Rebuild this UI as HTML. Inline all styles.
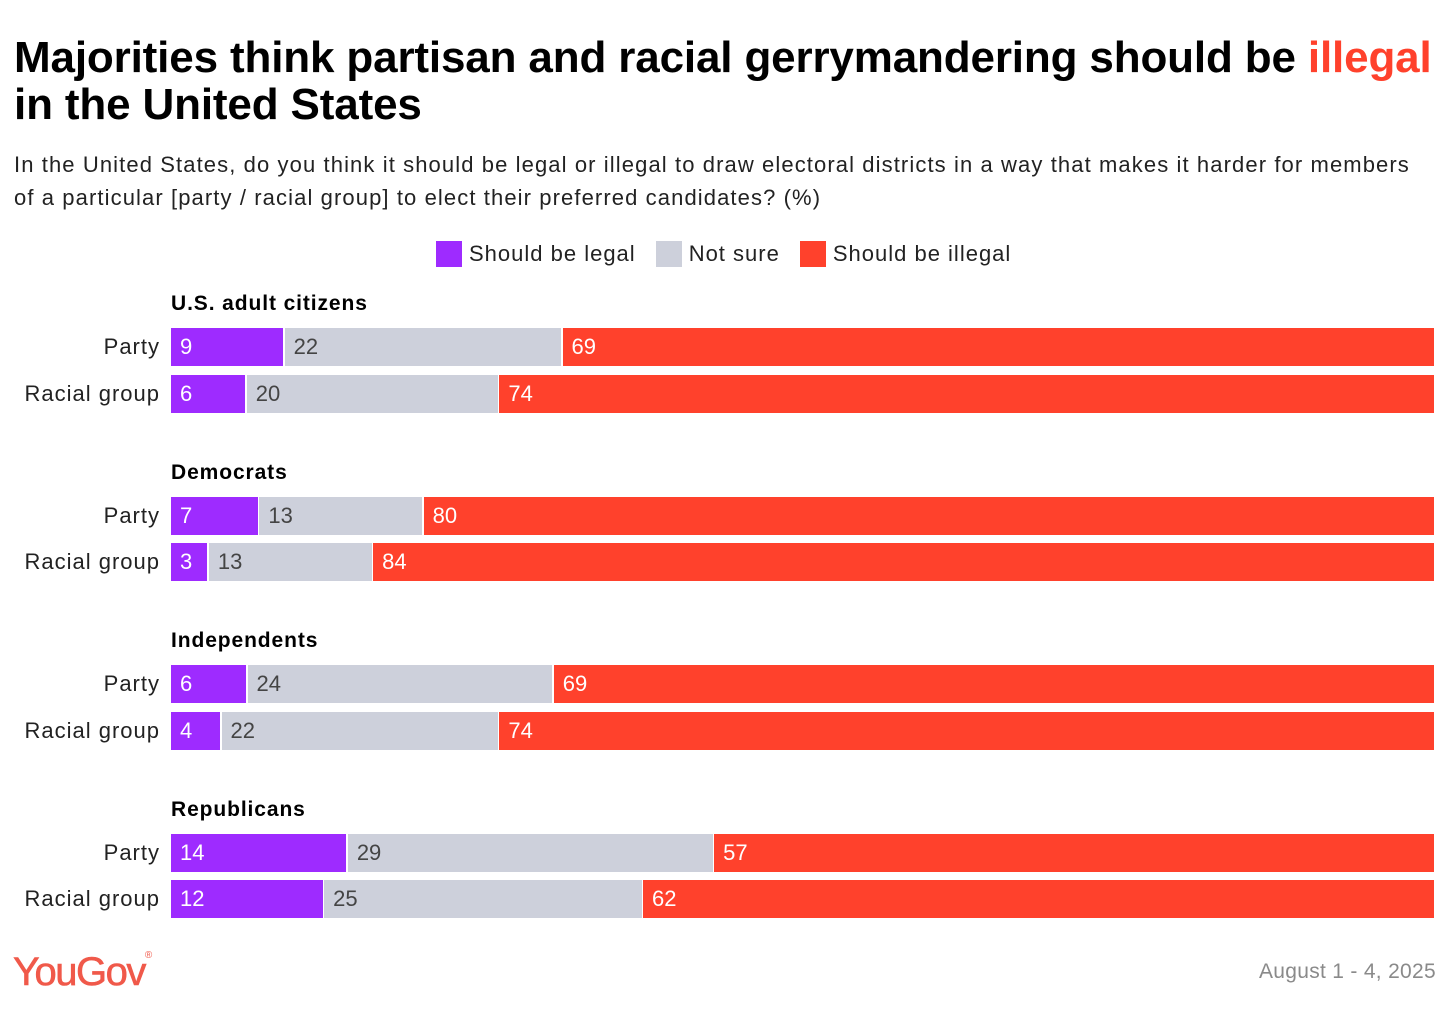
<!DOCTYPE html>
<html><head><meta charset="utf-8">
<style>
body{margin:0;width:1456px;height:1034px;background:#fff;font-family:"Liberation Sans",sans-serif;overflow:hidden;position:relative}
.t{position:absolute;white-space:nowrap}
</style></head><body>
<div class="t" style="left:14px;top:34px;font-size:44px;font-weight:bold;line-height:47px;letter-spacing:-0.15px;color:#000">Majorities think partisan and racial gerrymandering should be <span style="color:#ff412c">illegal</span><br>in the United States</div>
<div class="t" style="left:14px;top:148px;font-size:22px;line-height:33px;letter-spacing:1.1px;color:#222">In the United States, do you think it should be legal or illegal to draw electoral districts in a way that makes it harder for members<br>of a particular [party / racial group] to elect their preferred candidates? (%)</div>
<div style="position:absolute;top:241px;left:436px;font-size:22px;display:flex;align-items:center;color:#222;letter-spacing:1px">
<span style="width:26px;height:26px;background:#9e2bff;margin-right:7px"></span><span style="margin-right:20px">Should be legal</span>
<span style="width:26px;height:26px;background:#cdd0db;margin-right:7px"></span><span style="margin-right:20px">Not sure</span>
<span style="width:26px;height:26px;background:#ff412c;margin-right:7px"></span><span>Should be illegal</span>
</div>
<div id="chart"></div>
<div class="t" style="left:13px;top:950px;font-size:40px;color:#f0594a;letter-spacing:-1.5px;-webkit-text-stroke:0.6px #f0594a">YouGov<span style="font-size:10px;vertical-align:top;-webkit-text-stroke:0">®</span></div>
<div class="t" style="right:20px;top:960px;font-size:21px;color:#8a8a8a;letter-spacing:0.3px">August 1 - 4, 2025</div>
<script>
const groups=["U.S. adult citizens","Democrats","Independents","Republicans"];
const rowLabels=["Party","Racial group"];
const legal=[9,6,7,3,6,4,14,12];
const notSure=[22,20,13,13,24,22,29,25];
const illegal=[69,74,80,84,69,74,57,62];
const colors=["#9e2bff","#cdd0db","#ff412c"];
const textColors=["#fff","#444","#fff"];
const x0=171,x1=1434,barH=38;
const chart=document.getElementById('chart');
function mk(tag,css){const e=document.createElement(tag);e.style.cssText="position:absolute;"+css;chart.appendChild(e);return e;}
groups.forEach((g,gi)=>{
  const gy=292+gi*168.5;
  const gl=mk('div',`left:171px;top:${gy}px;font-size:21px;font-weight:bold;white-space:nowrap;letter-spacing:0.9px`);
  gl.textContent=g;
  
  
  rowLabels.forEach((rl,ri)=>{
    const i=gi*2+ri;
    const y=gy+36+ri*46.5;
    const lab=mk('div',`right:${1456-160}px;top:${y}px;height:${barH}px;line-height:${barH}px;font-size:22px;color:#222;white-space:nowrap;letter-spacing:1px`);
    lab.textContent=rl;
    
    
    const vals=[legal[i],notSure[i],illegal[i]];
    const tot=vals.reduce((a,b)=>a+b,0);
    let acc=0;
    vals.forEach((v,si)=>{
      const xa=x0+(x1-x0)*acc/tot;acc+=v;
      const xb=x0+(x1-x0)*acc/tot;
      const seg=mk('div',`left:${xa}px;top:${y}px;width:${xb-xa-(si<2?1.5:0)}px;height:${barH}px;background:${colors[si]};color:${textColors[si]};font-size:22px;line-height:${barH}px;padding-left:9px;box-sizing:border-box;white-space:nowrap`);
      seg.textContent=v;
      
      
    });
  });
});
</script>
</body></html>
